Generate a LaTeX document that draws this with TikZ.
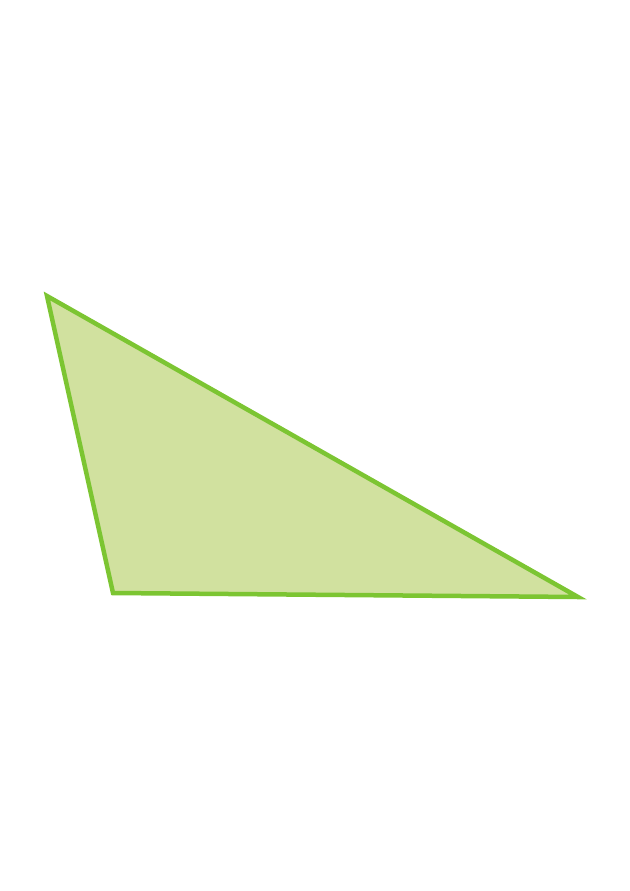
\documentclass[tikz,border=0pt]{standalone}
\definecolor{tristroke}{HTML}{7CC532}
\definecolor{trifill}{HTML}{D1E19F}
\begin{document}
\begin{tikzpicture}[x=1bp,y=-1bp]
\useasboundingbox (0,0) rectangle (630,891);
\coordinate (A) at (47,296);
\coordinate (B) at (113,593);
\coordinate (C) at (578,597);
\draw[line width=4.5bp, draw=tristroke, fill=trifill, line join=miter] (A) -- (B) -- (C) -- cycle;
\end{tikzpicture}
\end{document}
